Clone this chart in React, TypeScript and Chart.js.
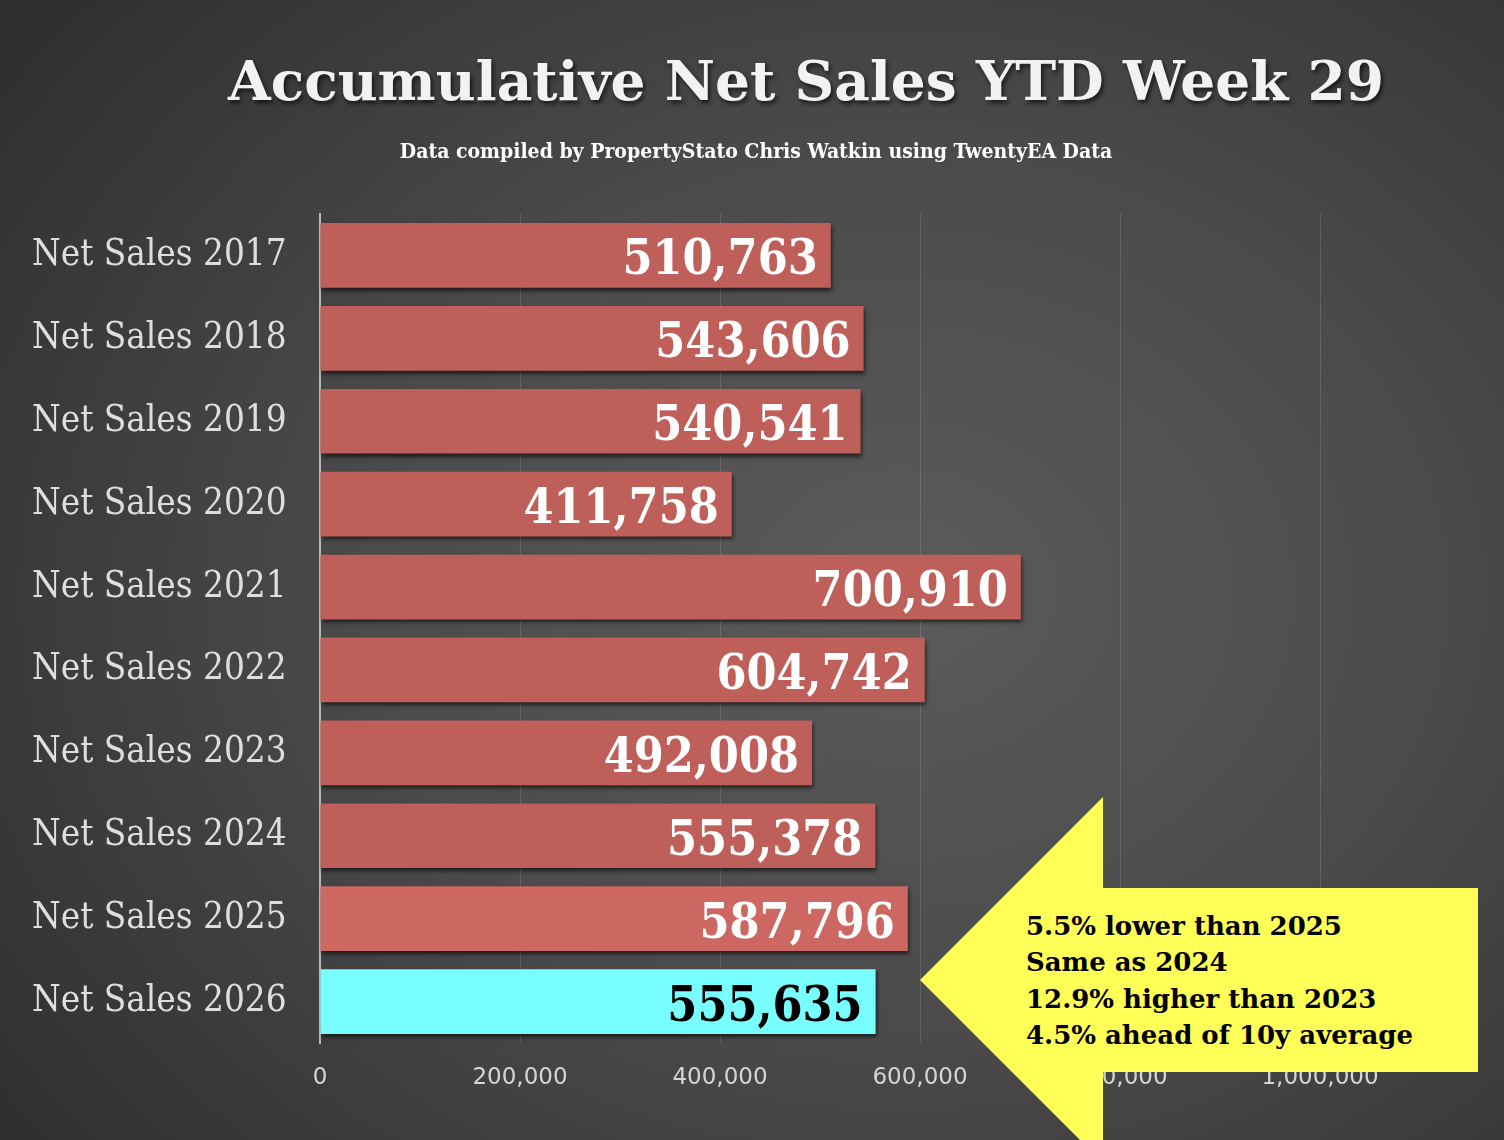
import React, { useEffect, useRef } from 'react';
import { Chart, registerables } from 'chart.js';

Chart.register(...registerables);

const categories = [
  'Net Sales 2017',
  'Net Sales 2018',
  'Net Sales 2019',
  'Net Sales 2020',
  'Net Sales 2021',
  'Net Sales 2022',
  'Net Sales 2023',
  'Net Sales 2024',
  'Net Sales 2025',
  'Net Sales 2026',
];
const netSales = [510763, 543606, 540541, 411758, 700910, 604742, 492008, 555378, 587796, 555635];
const barColours = [
  '#bf5f59', '#bf5f59', '#bf5f59', '#bf5f59', '#bf5f59',
  '#bf5f59', '#bf5f59', '#bf5f59', '#cd6761', '#78feff',
];
const valueColours = [
  '#ffffff', '#ffffff', '#ffffff', '#ffffff', '#ffffff',
  '#ffffff', '#ffffff', '#ffffff', '#ffffff', '#000000',
];
const xMax = 1000000;
const xStep = 200000;

const titleText = 'Accumulative Net Sales YTD Week 29';
const subtitleText = 'Data compiled by PropertyStato Chris Watkin using TwentyEA Data';
const calloutLines = [
  '5.5% lower than 2025',
  'Same as 2024',
  '12.9% higher than 2023',
  '4.5% ahead of 10y average',
];

const SLAB = "'DejaVu Serif Condensed', 'DejaVu Serif', serif";

// soft drop shadow under the bars
const barShadow = {
  id: 'barShadow',
  beforeDatasetDraw(chart: Chart) {
    const ctx = chart.ctx;
    ctx.save();
    ctx.shadowColor = 'rgba(0,0,0,0.6)';
    ctx.shadowBlur = 4;
    ctx.shadowOffsetX = 1;
    ctx.shadowOffsetY = 3;
  },
  afterDatasetDraw(chart: Chart) {
    chart.ctx.restore();
  },
};

// big value labels inside the end of each bar
const valueLabels = {
  id: 'valueLabels',
  afterDatasetsDraw(chart: Chart) {
    const ctx = chart.ctx;
    const meta = chart.getDatasetMeta(0);
    ctx.save();
    ctx.font = `bold 48px ${SLAB}`;
    ctx.textAlign = 'right';
    ctx.textBaseline = 'alphabetic';
    meta.data.forEach((bar: any, i: number) => {
      ctx.fillStyle = valueColours[i];
      ctx.fillText(netSales[i].toLocaleString('en-US'), bar.x - 13, bar.y + 19);
    });
    ctx.restore();
  },
};

const App: React.FC = () => {
  const chartRef = useRef<HTMLCanvasElement | null>(null);
  const chartInstance = useRef<Chart<'bar'> | null>(null);

  useEffect(() => {
    if (!chartRef.current) return;
    if (chartInstance.current) chartInstance.current.destroy();
    const ctx = chartRef.current.getContext('2d');
    if (!ctx) return;

    chartInstance.current = new Chart(ctx, {
      type: 'bar',
      data: {
        labels: categories,
        datasets: [
          {
            data: netSales,
            backgroundColor: barColours,
            borderWidth: 0,
            barPercentage: 0.78,
            categoryPercentage: 1,
          },
        ],
      },
      options: {
        indexAxis: 'y',
        responsive: false,
        animation: false,
        layout: { padding: { left: 32, right: 184, top: 214, bottom: 0 } },
        plugins: {
          legend: { display: false },
          tooltip: { enabled: false },
          title: { display: false },
        },
        scales: {
          x: {
            min: 0,
            max: xMax,
            ticks: {
              stepSize: xStep,
              color: '#d6d6d6',
              padding: 21,
              maxRotation: 0,
              font: { family: "'DejaVu Sans', sans-serif", size: 23 },
              callback: (v: any) => Number(v).toLocaleString('en-US'),
            },
            grid: { color: 'rgba(255,255,255,0.13)', lineWidth: 1, drawTicks: false },
            border: { display: false },
            afterFit: (scale: any) => {
              scale.height = 97;
            },
          },
          y: {
            ticks: {
              color: '#dedede',
              crossAlign: 'far',
              font: { family: SLAB, size: 36.5 },
            },
            grid: { display: false, drawTicks: false },
            border: { display: true, color: '#b8b8b8', width: 2 },
            afterFit: (scale: any) => {
              scale.width = 288;
            },
          },
        },
      },
      plugins: [barShadow, valueLabels],
    });

    return () => {
      if (chartInstance.current) {
        chartInstance.current.destroy();
        chartInstance.current = null;
      }
    };
  }, []);

  return (
    <div
      style={{
        position: 'fixed',
        left: 0,
        top: 0,
        width: 1504,
        height: 1140,
        overflow: 'hidden',
        background:
          'radial-gradient(ellipse 75% 80% at 60% 52%, #5b5b5b 0%, #4c4c4c 45%, #2f2f2f 100%)',
      }}
    >
      <div
        style={{
          position: 'absolute',
          left: 806,
          top: 53,
          transform: 'translateX(-50%)',
          whiteSpace: 'nowrap',
          fontFamily: "'DejaVu Serif', serif",
          fontWeight: 'bold',
          fontSize: 55,
          lineHeight: '56px',
          color: '#f2f2f2',
          textShadow: '2px 3px 4px rgba(0,0,0,0.65)',
        }}
      >
        {titleText}
      </div>
      <div
        style={{
          position: 'absolute',
          left: 756,
          top: 140,
          transform: 'translateX(-50%)',
          whiteSpace: 'nowrap',
          fontFamily: SLAB,
          fontWeight: 'bold',
          fontSize: 21,
          lineHeight: '21px',
          color: '#ffffff',
        }}
      >
        {subtitleText}
      </div>
      <canvas ref={chartRef} width={1504} height={1140} style={{ position: 'absolute', left: 0, top: 0 }} />
      <div
        style={{
          position: 'absolute',
          left: 920,
          top: 797,
          width: 558,
          height: 366,
          background: '#ffff57',
          clipPath: 'polygon(0 183px, 183px 0, 183px 91px, 558px 91px, 558px 275px, 183px 275px, 183px 366px)',
        }}
      >
        <div
          style={{
            position: 'absolute',
            left: 106,
            top: 111,
            whiteSpace: 'nowrap',
            fontFamily: "'DejaVu Serif', serif",
            fontWeight: 'bold',
            fontSize: 26,
            lineHeight: '36.3px',
            color: '#000000',
          }}
        >
          {calloutLines.map((line) => (
            <div key={line}>{line}</div>
          ))}
        </div>
      </div>
    </div>
  );
};

export default App;
